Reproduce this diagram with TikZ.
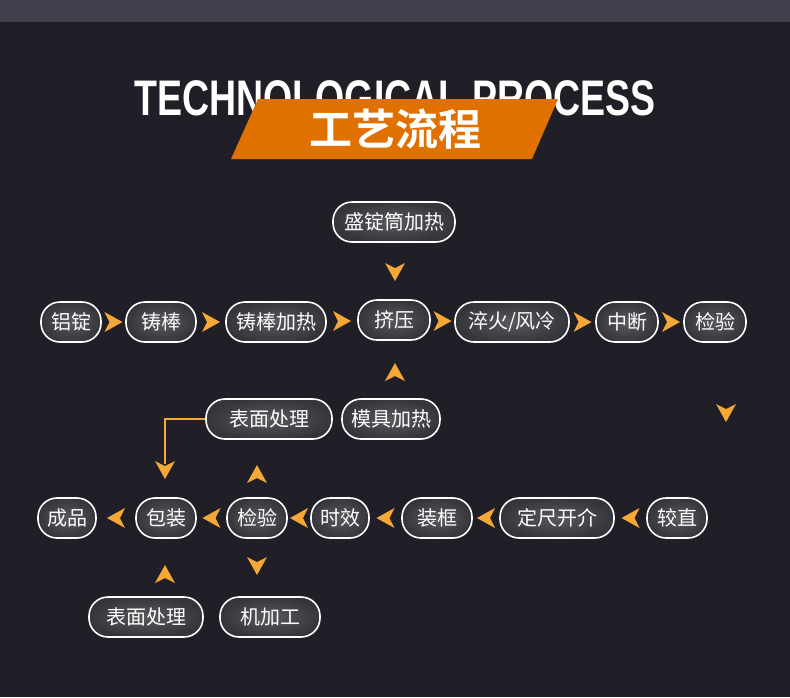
\documentclass[tikz,border=0pt]{standalone}
\usepackage{fontspec}
\newfontfamily\cjk{Noto Sans CJK SC}
\newfontfamily\cjkb{Noto Sans CJK SC Bold}
\setmainfont{Liberation Sans}
\usetikzlibrary{calc}
\definecolor{bg}{HTML}{201F27}
\definecolor{band}{HTML}{3F404C}
\definecolor{org}{HTML}{E07000}
\definecolor{chev}{HTML}{F5A835}
\tikzset{
 box/.style={draw=white,line width=1.6pt,rounded corners=19pt,minimum height=40pt,inner xsep=6pt,
   inner color=gray!60!bg,outer color=bg!90!white,text=white,font=\cjk\fontsize{20}{20}\selectfont},
 pics/chev/.style={code={\fill[chev] (9,0) -- (-9,-10) -- (-4,0) -- (-9,10) -- cycle;}}
}
\begin{document}
\begin{tikzpicture}[x=1pt,y=-1pt]
\fill[bg] (0,0) rectangle (790,697);
\useasboundingbox (0,0) rectangle (790,697);
\fill[band] (0,0) rectangle (790,22);
\node[text=white,font=\bfseries\fontsize{50}{50}\selectfont,xscale=0.75] (t) at (395,98) {TECHNOLOGICAL PROCESS};
\fill[org] (231,159) -- (258,99) -- (558,99) -- (532,159) -- cycle;
\node[text=white,font=\cjkb\fontsize{43}{43}\selectfont] (t2) at (395,129) {工艺流程};
% row 1
\node[box,minimum width=60pt] (a1) at (71,322) {铝锭};
\node[box,minimum width=70pt] (a2) at (161,322) {铸棒};
\node[box,minimum width=100pt] (a3) at (276,322) {铸棒加热};
\node[box,minimum width=72pt] (a4) at (394,320) {挤压};
\node[box,minimum width=114pt] (a5) at (512,322) {淬火/风冷};
\node[box,minimum width=62pt] (a6) at (627,322) {中断};
\node[box,minimum width=62pt] (a7) at (715,322) {检验};
\node[box,minimum width=122pt] (u) at (394,222) {盛锭筒加热};
\node[box,minimum width=98pt] (m) at (391,419) {模具加热};
% row 2
\node[box,minimum width=58pt] (b1) at (67,518) {成品};
\node[box,minimum width=60pt] (b2) at (166,518) {包装};
\node[box,minimum width=60pt] (b3) at (257,518) {检验};
\node[box,minimum width=58pt] (b4) at (340,518) {时效};
\node[box,minimum width=70pt] (b5) at (437,518) {装框};
\node[box,minimum width=114pt] (b6) at (557,518) {定尺开介};
\node[box,minimum width=60pt] (b7) at (677,518) {较直};
\node[box,minimum width=126pt] (s1) at (269,419) {表面处理};
\node[box,minimum width=114pt] (s2) at (146,617) {表面处理};
\node[box,minimum width=100pt] (k) at (270,617) {机加工};
% chevrons
\foreach \p/\q in {a1/a2,a2/a3,a3/a4,a4/a5,a5/a6,a6/a7}
  \pic at ($(\p.east)!0.5!(\q.west)$) {chev};
\foreach \p/\q in {b2/b1,b3/b2,b4/b3,b5/b4,b6/b5,b7/b6}
  \pic[rotate=180] at ($(\p.west)!0.5!(\q.east)$) {chev};
\pic[rotate=-90] at (395,272) {chev};
\pic[rotate=90] at (395,372) {chev};
\pic[rotate=-90] at (726,413) {chev};
\pic[rotate=90] at (257,474) {chev};
\pic[rotate=-90] at (257,566) {chev};
\pic[rotate=90] at (165,574) {chev};
\pic[rotate=-90] at (165,470) {chev};
\coordinate (e) at (165,464);
\draw[chev,line width=1.6pt] (s1.west) -| (e);
\end{tikzpicture}
\end{document}
